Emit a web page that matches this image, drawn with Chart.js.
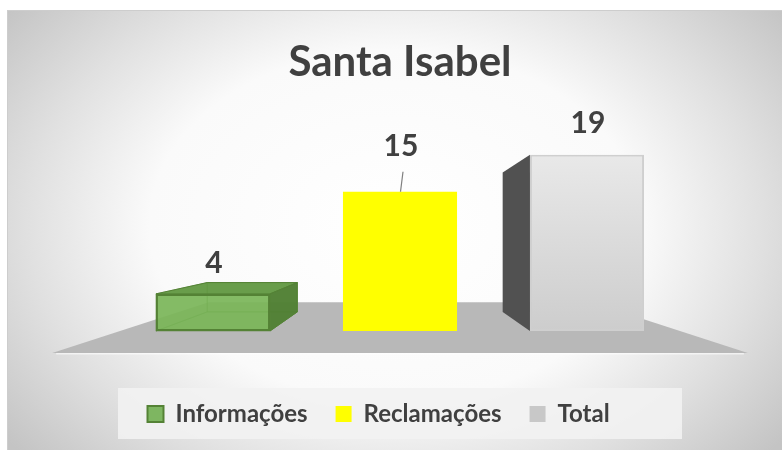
<!DOCTYPE html>
<html>
<head>
<meta charset="utf-8">
<script src="https://cdn.jsdelivr.net/npm/chart.js@4.4.1/dist/chart.umd.min.js"></script>
<style>
  html, body { margin: 0; padding: 0; background: #fff; overflow: hidden; }
  canvas { display: block; }
</style>
</head>
<body>
<canvas id="santaIsabelChart" width="782" height="450"></canvas>
<script>
/* ================================
   Data
================================ */
const categories = ["Santa Isabel"];
const seriesNames = ["Informações", "Reclamações", "Total"];
const seriesValues = [4, 15, 19];
const valueMax = 20;

/* ================================
   Styles
================================ */
const TEXT_COLOR = "#404040";
const FONT = "Lato";

const barBorder = ["#548235", "#ffff00", "#cfcfcf"];
const barBorderWidth = [2, 0, 2];
const barTop = ["rgba(98,152,66,0.92)", "#e6e600", "#eeeeee"];
const barSide = ["rgba(80,128,52,0.95)", "#d9d900", "#515151"];
const barHidden = ["rgba(112,172,80,0.45)", null, null];
const barEdge = ["#548235", null, null];
const legendFill = ["#7eb661", "#ffff00", "#c8c8c8"];
const legendEdge = ["#548235", "#ffff00", "#c8c8c8"];
const legendEdgeWidth = [2, 0, 0];
const labelLift = [0, 14, 0];

const VP_RISE = 91;       // horizon above the baseline
const BAR_DEPTH = 0.79;   // back face scale towards vanishing point
const FLOOR_DEPTH = 0.55;
const FLOOR_DROP = 22;
const FLOOR_SPREAD = 1.24;

function frontColor(i) {
  if (i === 0) return "rgba(122,182,88,0.85)";
  if (i === 1) return "#ffff00";
  return (ctx) => {
    const area = ctx.chart.chartArea;
    if (!area) return "#dcdcdc";
    const g = ctx.chart.ctx.createLinearGradient(0, area.top, 0, area.bottom);
    g.addColorStop(0, "#eaeaea");
    g.addColorStop(1, "#cdcdcd");
    return g;
  };
}

/* ================================
   Geometry helpers
================================ */
function project(p, vp, k) {
  return { x: vp.x + (p.x - vp.x) * k, y: vp.y + (p.y - vp.y) * k };
}

function fillPoly(ctx, pts, fill, stroke) {
  ctx.beginPath();
  ctx.moveTo(pts[0].x, pts[0].y);
  for (let i = 1; i < pts.length; i++) ctx.lineTo(pts[i].x, pts[i].y);
  ctx.closePath();
  if (fill) {
    ctx.fillStyle = fill;
    ctx.fill();
  }
  if (stroke) {
    ctx.strokeStyle = stroke;
    ctx.lineWidth = 1;
    ctx.stroke();
  }
}

function vanishingPoint(chart) {
  const area = chart.chartArea;
  const base = chart.scales.y.getPixelForValue(0);
  return { x: (area.left + area.right) / 2, y: base - VP_RISE };
}

function drawFloor(ctx, chart, vp) {
  const area = chart.chartArea;
  const cx = (area.left + area.right) / 2;
  const half = (area.right - area.left) / 2 * FLOOR_SPREAD;
  const fy = chart.scales.y.getPixelForValue(0) + FLOOR_DROP;
  const fl = { x: cx - half, y: fy };
  const fr = { x: cx + half, y: fy };
  fillPoly(ctx, [fl, fr, project(fr, vp, FLOOR_DEPTH), project(fl, vp, FLOOR_DEPTH)], "#b8b8b8");
  ctx.fillStyle = "rgba(255,255,255,0.6)";
  ctx.fillRect(fl.x + 4, fy, fr.x - fl.x - 8, 1.5);
}

function drawBoxSides(ctx, i, left, right, top, bottom, vp) {
  const f = {
    tl: { x: left, y: top }, tr: { x: right, y: top },
    br: { x: right, y: bottom }, bl: { x: left, y: bottom }
  };
  const b = {};
  Object.keys(f).forEach(k => { b[k] = project(f[k], vp, BAR_DEPTH); });

  const faces = {
    back: [b.tl, b.tr, b.br, b.bl],
    top: [f.tl, f.tr, b.tr, b.tl],
    bottom: [f.bl, f.br, b.br, b.bl],
    left: [f.tl, f.bl, b.bl, b.tl],
    right: [f.tr, f.br, b.br, b.tr]
  };
  const shown = {
    top: top > vp.y,
    bottom: bottom < vp.y,
    left: left > vp.x,
    right: right < vp.x
  };

  // see-through bar: inner faces first
  if (barHidden[i]) {
    ["back", "bottom", "left", "right", "top"]
      .filter(k => k === "back" || !shown[k])
      .forEach(k => fillPoly(ctx, faces[k], barHidden[i], "rgba(84,130,53,0.5)"));
  }
  if (shown.top) fillPoly(ctx, faces.top, barTop[i], barEdge[i]);
  if (shown.left) fillPoly(ctx, faces.left, barSide[i], barEdge[i]);
  if (shown.right) fillPoly(ctx, faces.right, barSide[i], barEdge[i]);
}

/* ================================
   Scene plugin (background, floor, 3D sides, labels)
================================ */
const scenePlugin = {
  id: "scene",
  beforeDraw(chart) {
    const { ctx, width, height } = chart;
    ctx.save();
    ctx.fillStyle = "#ffffff";
    ctx.fillRect(0, 0, width, height);

    ctx.beginPath();
    ctx.rect(7, 10, width, height);
    ctx.clip();
    ctx.translate(395, 225);
    ctx.scale(1.4, 1);
    const g = ctx.createRadialGradient(0, 0, 0, 0, 0, 351);
    g.addColorStop(0, "#ffffff");
    g.addColorStop(0.5, "#fafafa");
    g.addColorStop(0.75, "#e0e0e0");
    g.addColorStop(1, "#c4c4c4");
    ctx.fillStyle = g;
    ctx.fillRect(-700, -400, 1400, 800);
    ctx.restore();

    ctx.save();
    ctx.strokeStyle = "#cdcdcd";
    ctx.lineWidth = 1;
    ctx.strokeRect(7.5, 10.5, width + 10, height + 10);

    // legend panel
    const hb = chart.legend.legendHitBoxes;
    if (hb && hb.length) {
      const cy = hb[0].top + hb[0].height / 2;
      const area = chart.chartArea;
      ctx.fillStyle = "rgba(242,242,242,0.9)";
      ctx.fillRect(area.left - 1.5, cy - 26, area.right - area.left + 3, 51);
    }
    ctx.restore();
  },
  beforeDatasetsDraw(chart) {
    const ctx = chart.ctx;
    const vp = vanishingPoint(chart);
    ctx.save();
    drawFloor(ctx, chart, vp);
    chart.data.datasets.forEach((ds, i) => {
      chart.getDatasetMeta(i).data.forEach(bar => {
        const { x, y, base, width } = bar.getProps(["x", "y", "base", "width"], true);
        drawBoxSides(ctx, i, x - width / 2, x + width / 2, y, base, vp);
      });
    });
    ctx.restore();
  },
  afterDatasetsDraw(chart) {
    const ctx = chart.ctx;
    ctx.save();
    ctx.font = `bold 30px ${FONT}`;
    ctx.fillStyle = TEXT_COLOR;
    ctx.textAlign = "center";
    ctx.textBaseline = "middle";
    chart.data.datasets.forEach((ds, i) => {
      chart.getDatasetMeta(i).data.forEach((bar, j) => {
        const { x, y } = bar.getProps(["x", "y"], true);
        const ly = y - 31 - labelLift[i];
        ctx.fillText(String(ds.data[j]), x + 1, ly);
        if (labelLift[i] > 0) {
          ctx.strokeStyle = "#7f7f7f";
          ctx.lineWidth = 1.2;
          ctx.beginPath();
          ctx.moveTo(x + 3, ly + 25);
          ctx.lineTo(x + 0.5, y);
          ctx.stroke();
        }
      });
    });
    ctx.restore();
  }
};

/* ================================
   Chart
================================ */
const datasets = seriesNames.map((name, i) => ({
  label: name,
  data: [seriesValues[i]],
  backgroundColor: frontColor(i),
  borderColor: barBorder[i],
  borderWidth: barBorderWidth[i],
  borderSkipped: false
}));

new Chart(document.getElementById("santaIsabelChart"), {
  type: "bar",
  data: { labels: categories, datasets },
  plugins: [scenePlugin],
  options: {
    responsive: false,
    animation: false,
    events: [],
    datasets: { bar: { categoryPercentage: 1, barPercentage: 0.61 } },
    layout: { padding: { left: 119.5, right: 101.5, top: 0, bottom: 14 } },
    scales: {
      x: {
        display: true,
        ticks: { display: false },
        grid: { display: false },
        border: { display: false },
        afterFit: (scale) => { scale.height = 43; }
      },
      y: { display: false, min: 0, max: valueMax }
    },
    plugins: {
      tooltip: { enabled: false },
      title: {
        display: true,
        text: categories[0],
        color: TEXT_COLOR,
        font: { family: FONT, size: 42, weight: "bold" },
        padding: { top: 37, bottom: 58 }
      },
      legend: {
        display: true,
        position: "bottom",
        align: "start",
        labels: {
          color: TEXT_COLOR,
          font: { family: FONT, size: 24, weight: "bold" },
          boxWidth: 16,
          boxHeight: 16,
          padding: 28,
          generateLabels(chart) {
            const items = Chart.defaults.plugins.legend.labels.generateLabels(chart);
            items.forEach((it, i) => {
              it.fillStyle = legendFill[i];
              it.strokeStyle = legendEdge[i];
              it.lineWidth = legendEdgeWidth[i];
            });
            return items;
          }
        }
      }
    }
  }
});
</script>
</body>
</html>
